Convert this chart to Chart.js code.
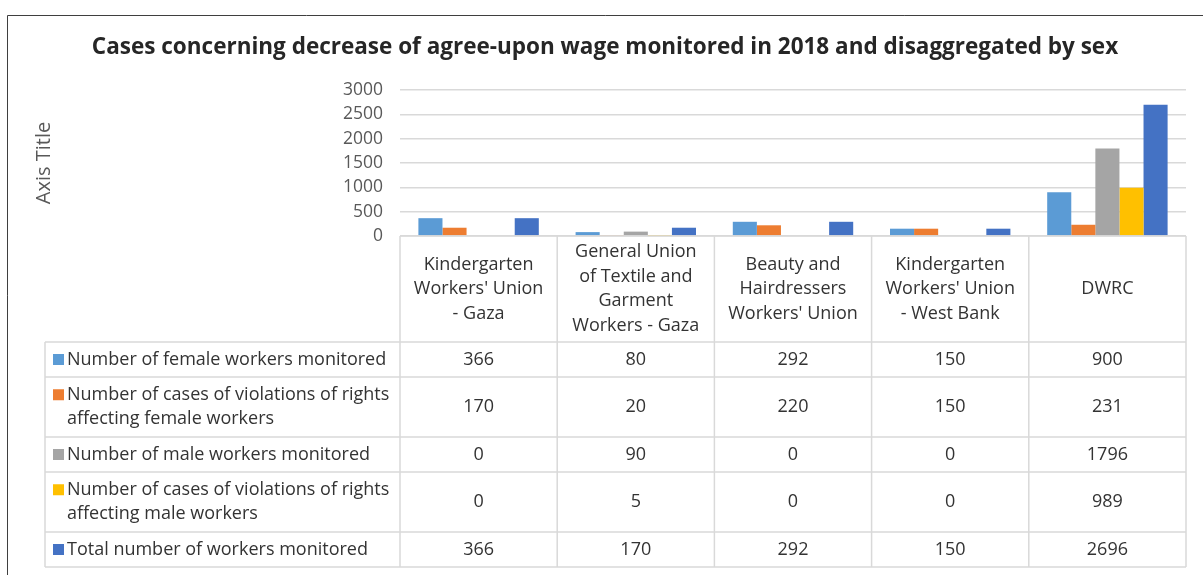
<!DOCTYPE html>
<html>
<head>
<meta charset="utf-8">
<title>Cases concerning decrease of agree-upon wage</title>
<script src="https://cdn.jsdelivr.net/npm/chart.js@4.4.1/dist/chart.umd.min.js"></script>
<style>
  html, body { margin: 0; padding: 0; background: #fff; }
  #wrap { width: 1203px; height: 575px; }
</style>
</head>
<body>
<div id="wrap"><canvas id="myChart" width="1203" height="575"></canvas></div>
<script>
// categories (one line per array item, as in the table header)
let categories = [
  ['Kindergarten', "Workers' Union", '- Gaza'],
  ['General Union', 'of Textile and', 'Garment', 'Workers - Gaza'],
  ['Beauty and', 'Hairdressers', "Workers' Union"],
  ['Kindergarten', "Workers' Union", '- West Bank'],
  ['DWRC']
];

// series names, split where the table wraps them
let seriesNames = [
  ['Number of female workers monitored'],
  ['Number of cases of violations of rights', 'affecting female workers'],
  ['Number of male workers monitored'],
  ['Number of cases of violations of rights', 'affecting male workers'],
  ['Total number of workers monitored']
];

// series values
let femaleMonitored = [366, 80, 292, 150, 900];
let femaleViolations = [170, 20, 220, 150, 231];
let maleMonitored = [0, 90, 0, 0, 1796];
let maleViolations = [0, 5, 0, 0, 989];
let totalMonitored = [366, 170, 292, 150, 2696];

// y axis ticks
let yTicks = [0, 500, 1000, 1500, 2000, 2500, 3000];

let seriesColors = ['#5B9BD5', '#ED7D31', '#A5A5A5', '#FFC000', '#4472C4'];
let seriesValues = [femaleMonitored, femaleViolations, maleMonitored, maleViolations, totalMonitored];

const FONT = "'Open Sans', 'Noto Sans', sans-serif";

// draws the frame round the chart
const framePlugin = {
  id: 'frame',
  beforeDraw(chart) {
    const ctx = chart.ctx;
    ctx.save();
    ctx.fillStyle = '#ffffff';
    ctx.fillRect(0, 0, chart.width, chart.height);
    ctx.strokeStyle = '#3f3f3f';
    ctx.lineWidth = 1;
    ctx.beginPath();
    ctx.moveTo(7.5, chart.height);
    ctx.lineTo(7.5, 15.5);
    ctx.lineTo(chart.width, 15.5);
    ctx.stroke();
    ctx.restore();
  }
};

// draws the data table under the plot, using the x scale for the columns
const dataTablePlugin = {
  id: 'dataTable',
  afterDraw(chart) {
    const ctx = chart.ctx;
    const area = chart.chartArea;
    const xScale = chart.scales.x;
    const n = chart.data.labels.length;
    const colW = (area.right - area.left) / n;
    const lineH = 24.5;
    const headerH = 106;
    const keyLeft = 45;
    const top = area.bottom;

    // row heights from the number of text lines
    let rows = [];
    let y = top + headerH;
    chart.data.datasets.forEach((ds, i) => {
      const lines = seriesNames[i];
      const h = lines.length * 25 + 10;
      rows.push({ top: y, h: h, lines: lines, ds: ds });
      y += h;
    });
    const bottom = y;

    ctx.save();
    ctx.strokeStyle = '#d9d9d9';
    ctx.lineWidth = 1.5;
    ctx.beginPath();
    // top of table / axis line
    ctx.moveTo(area.left, top);
    ctx.lineTo(area.right, top);
    // row lines
    rows.forEach(r => {
      ctx.moveTo(keyLeft, r.top);
      ctx.lineTo(area.right, r.top);
    });
    ctx.moveTo(keyLeft, bottom);
    ctx.lineTo(area.right, bottom);
    // column lines
    ctx.moveTo(keyLeft, top + headerH);
    ctx.lineTo(keyLeft, bottom);
    for (let c = 0; c <= n; c++) {
      const x = area.left + c * colW;
      ctx.moveTo(x, top);
      ctx.lineTo(x, bottom);
    }
    ctx.stroke();

    ctx.fillStyle = '#333333';
    ctx.font = '18px ' + FONT;
    ctx.textAlign = 'center';
    ctx.textBaseline = 'middle';

    // header: category names
    chart.data.labels.forEach((lab, c) => {
      const cx = xScale.getPixelForValue(c);
      const lines = Array.isArray(lab) ? lab : [lab];
      const cy = top + headerH / 2;
      lines.forEach((t, k) => {
        ctx.fillText(t, cx, cy + (k - (lines.length - 1) / 2) * lineH);
      });
    });

    // series rows
    rows.forEach((r, i) => {
      const cy = r.top + r.h / 2;
      const firstY = cy - (r.lines.length - 1) / 2 * lineH;
      // legend key
      ctx.fillStyle = r.ds.backgroundColor;
      ctx.fillRect(53, firstY - 5.5, 11, 11);
      ctx.fillStyle = '#333333';
      ctx.textAlign = 'left';
      r.lines.forEach((t, k) => {
        ctx.fillText(t, 67, firstY + k * lineH);
      });
      ctx.textAlign = 'center';
      r.ds.data.forEach((v, c) => {
        ctx.fillText(String(v), xScale.getPixelForValue(c), cy);
      });
    });
    ctx.restore();
  }
};

const ctx = document.getElementById('myChart').getContext('2d');
let barChart = new Chart(ctx, {
  type: 'bar',
  data: {
    labels: categories,
    datasets: seriesNames.map((name, i) => ({
      label: name.join(' '),
      data: seriesValues[i],
      backgroundColor: seriesColors[i],
      borderWidth: 0,
      categoryPercentage: 0.766,
      barPercentage: 1
    }))
  },
  options: {
    responsive: false,
    animation: false,
    devicePixelRatio: 1,
    layout: {
      padding: { left: 24, right: 17, top: 0, bottom: 339 }
    },
    plugins: {
      legend: { display: false },
      title: {
        display: true,
        text: 'Cases concerning decrease of agree-upon wage monitored in 2018 and disaggregated by sex',
        color: '#262626',
        font: { family: FONT, size: 22.5, weight: 'bold' },
        padding: { top: 34.5, bottom: 28.5 }
      }
    },
    scales: {
      x: {
        display: false
      },
      y: {
        min: yTicks[0],
        max: yTicks[yTicks.length - 1],
        afterFit: scale => { scale.width = 376; },
        afterBuildTicks: scale => { scale.ticks = yTicks.map(v => ({ value: v })); },
        border: { display: false },
        grid: { color: '#d9d9d9', lineWidth: 1.5, drawTicks: false },
        ticks: {
          color: '#595959',
          padding: 17,
          font: { family: FONT, size: 17.5 },
          callback: v => String(v)
        },
        title: {
          display: true,
          text: 'Axis Title',
          color: '#595959',
          font: { family: FONT, size: 20 },
          padding: { top: 8, bottom: 0 }
        }
      }
    }
  },
  plugins: [framePlugin, dataTablePlugin]
});
</script>
</body>
</html>
